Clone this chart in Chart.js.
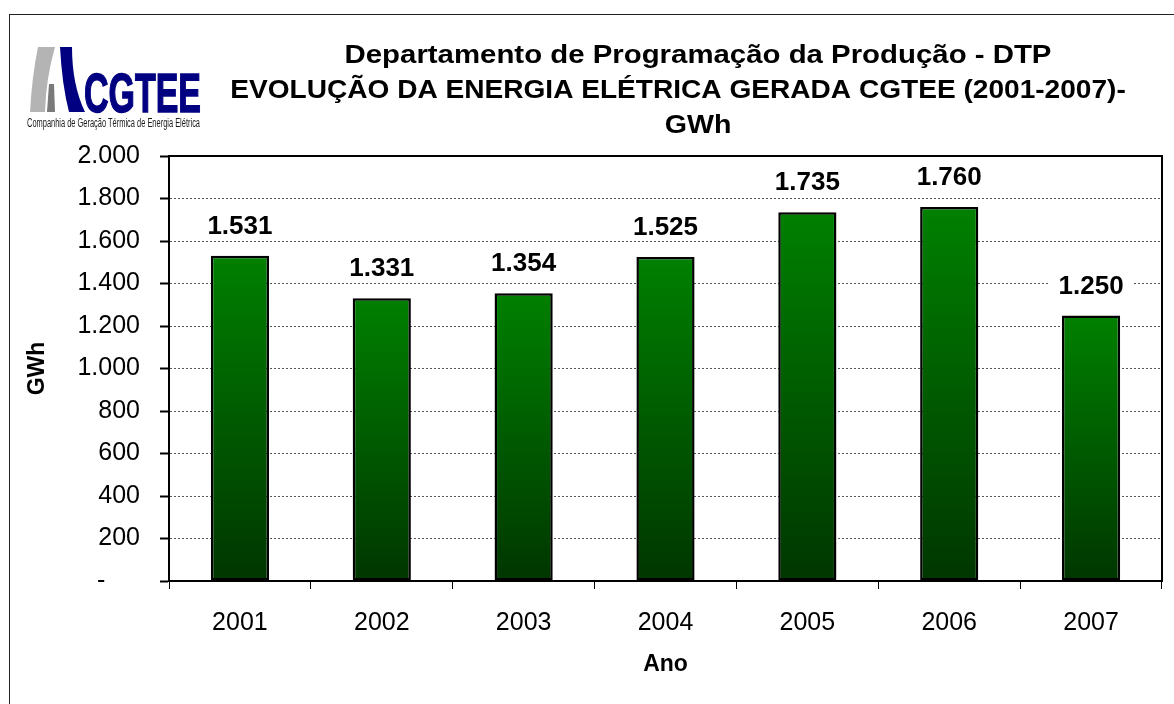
<!DOCTYPE html>
<html>
<head>
<meta charset="utf-8">
<title>Evolução da Energia Elétrica Gerada CGTEE</title>
<script src="https://cdn.jsdelivr.net/npm/chart.js@4.4.0/dist/chart.umd.min.js"></script>
<style>
  html, body { margin: 0; padding: 0; background: #fff; overflow: hidden; }
  #wrap { position: relative; width: 1174px; height: 704px; overflow: hidden; }
  #frame { position: absolute; left: 9px; top: 14px; width: 1200px; height: 720px; border: 1.5px solid #222; }
  #logo { position: absolute; left: 0; top: 0; }
  canvas { position: absolute; left: 0; top: 0; }
</style>
</head>
<body>
<div id="wrap">
  <div id="frame"></div>
  <canvas id="energyChart" width="1174" height="704"></canvas>
  <svg id="logo" width="240" height="140" viewBox="0 0 240 140">
    <path d="M38,47 L55,47 Q46,78 45,112 L30,112 Q32,76 38,47 Z" fill="#b4b4b4"/>
    <path d="M49,84 L54,84 L55,112 L47,112 Z" fill="#7a7a7a"/>
    <path d="M60,47 L72,47 Q72,85 85,112 L69,112 Q62,85 60,47 Z" fill="#000080"/>
    <text x="84" y="112" font-family="Liberation Sans Narrow, Arial Narrow, sans-serif" font-weight="bold"
          font-size="56" fill="#000080" stroke="#000080" stroke-width="1.5"
          textLength="117" lengthAdjust="spacingAndGlyphs">CGTEE</text>
    <text x="27" y="127" font-family="Liberation Sans Narrow, Arial Narrow, sans-serif"
          font-size="12" fill="#1a1a1a" textLength="173" lengthAdjust="spacingAndGlyphs">Companhia de Geração Térmica de Energia Elétrica</text>
  </svg>
</div>

<script>
// ---------- DATA ----------
const years = ["2001", "2002", "2003", "2004", "2005", "2006", "2007"];
const energyGWh = [1531, 1331, 1354, 1525, 1735, 1760, 1250];
const titleLines = [
    "Departamento de Programação da Produção - DTP",
    "EVOLUÇÃO DA ENERGIA ELÉTRICA GERADA CGTEE (2001-2007)-",
    "GWh"
];
const yAxisTitle = "GWh";
const xAxisTitle = "Ano";

const FONT = "'Liberation Sans', Arial, Helvetica, sans-serif";

// 1531 -> "1.531"
function fmtThousands(v) {
    return String(v).replace(/\B(?=(\d{3})+(?!\d))/g, ".");
}

// ---------- Gradient for each bar (bright green on top, dark at base) ----------
function barGradient(context) {
    const chart = context.chart;
    const { ctx, chartArea, scales } = chart;
    if (!chartArea || context.raw === undefined) return "#006000";
    const top = scales.y.getPixelForValue(context.raw);
    const bottom = scales.y.getPixelForValue(0);
    const g = ctx.createLinearGradient(0, top, 0, bottom);
    g.addColorStop(0, "#008000");
    g.addColorStop(1, "#003600");
    return g;
}

// ---------- Plugin: chart title (3 lines) ----------
const titlePlugin = {
    id: "titleLines",
    afterDraw(chart) {
        const ctx = chart.ctx;
        const centers = [698, 678, 698];
        const baselines = [63, 98, 133];
        const stretch = [1.13, 1.08, 1.1];
        ctx.save();
        ctx.fillStyle = "#000";
        ctx.font = "bold 26px " + FONT;
        ctx.textAlign = "center";
        ctx.textBaseline = "alphabetic";
        titleLines.forEach((line, i) => {
            ctx.save();
            ctx.translate(centers[i], baselines[i]);
            ctx.scale(stretch[i], 1);
            ctx.fillText(line, 0, 0);
            ctx.restore();
        });
        ctx.restore();
    }
};

// ---------- Plugin: plot area frame ----------
const framePlugin = {
    id: "plotFrame",
    afterDatasetsDraw(chart) {
        const { ctx, chartArea: a } = chart;
        ctx.save();
        ctx.strokeStyle = "#000";
        ctx.lineWidth = 2;
        ctx.strokeRect(a.left, a.top, a.right - a.left, a.bottom - a.top);
        ctx.restore();
    }
};

// ---------- Plugin: value labels above bars ----------
const valueLabelPlugin = {
    id: "valueLabels",
    afterDatasetsDraw(chart) {
        const ctx = chart.ctx;
        const meta = chart.getDatasetMeta(0);
        ctx.save();
        ctx.font = "bold 26px " + FONT;
        ctx.textAlign = "center";
        ctx.textBaseline = "middle";
        meta.data.forEach((bar, i) => {
            const text = fmtThousands(chart.data.datasets[0].data[i]);
            const w = ctx.measureText(text).width + 18;
            const cy = bar.y - 30;
            ctx.fillStyle = "#fff";
            ctx.fillRect(bar.x - w / 2, cy - 14, w, 28);
            ctx.fillStyle = "#000";
            ctx.fillText(text, bar.x, cy + 1);
        });
        ctx.restore();
    }
};

// ---------- BAR CHART ----------
const ctx = document.getElementById("energyChart").getContext("2d");
new Chart(ctx, {
    type: "bar",
    data: {
        labels: years,
        datasets: [{
            label: "Energia gerada (GWh)",
            data: energyGWh,
            backgroundColor: barGradient,
            borderColor: "#000",
            borderWidth: 2.5,
            borderSkipped: false,
            barPercentage: 0.41,
            categoryPercentage: 1.0
        }]
    },
    options: {
        responsive: false,
        animation: false,
        layout: { padding: { top: 156, right: 12, left: 12, bottom: 20 } },
        plugins: {
            legend: { display: false },
            title: { display: false },
            tooltip: { enabled: false }
        },
        scales: {
            x: {
                grid: {
                    offset: true,
                    drawOnChartArea: false,
                    drawTicks: true,
                    tickLength: 8,
                    tickColor: "#000",
                    tickWidth: 1
                },
                border: { display: true, color: "#000", width: 2 },
                ticks: {
                    color: "#000",
                    padding: 19,
                    font: { family: FONT, size: 25 }
                },
                title: {
                    display: true,
                    text: xAxisTitle,
                    color: "#000",
                    font: { family: FONT, size: 23, weight: "bold" },
                    padding: { top: 0, bottom: 6 }
                },
                afterFit(scale) { scale.height = 103; }
            },
            y: {
                min: 0,
                max: 2000,
                grid: {
                    color: "#555",
                    lineWidth: 1,
                    tickLength: 9,
                    tickColor: "#000",
                    tickWidth: 2
                },
                border: { display: true, color: "#000", width: 2, dash: [2, 2] },
                ticks: {
                    stepSize: 200,
                    color: "#000",
                    padding: 20,
                    font: { family: FONT, size: 25 },
                    callback: v => v === 0 ? "-     " : fmtThousands(v)
                },
                title: {
                    display: true,
                    text: yAxisTitle,
                    color: "#000",
                    font: { family: FONT, size: 23, weight: "bold" },
                    padding: { top: 12, bottom: 0 }
                },
                afterFit(scale) { scale.width = 157; }
            }
        }
    },
    plugins: [framePlugin, valueLabelPlugin, titlePlugin]
});
</script>
</body>
</html>
